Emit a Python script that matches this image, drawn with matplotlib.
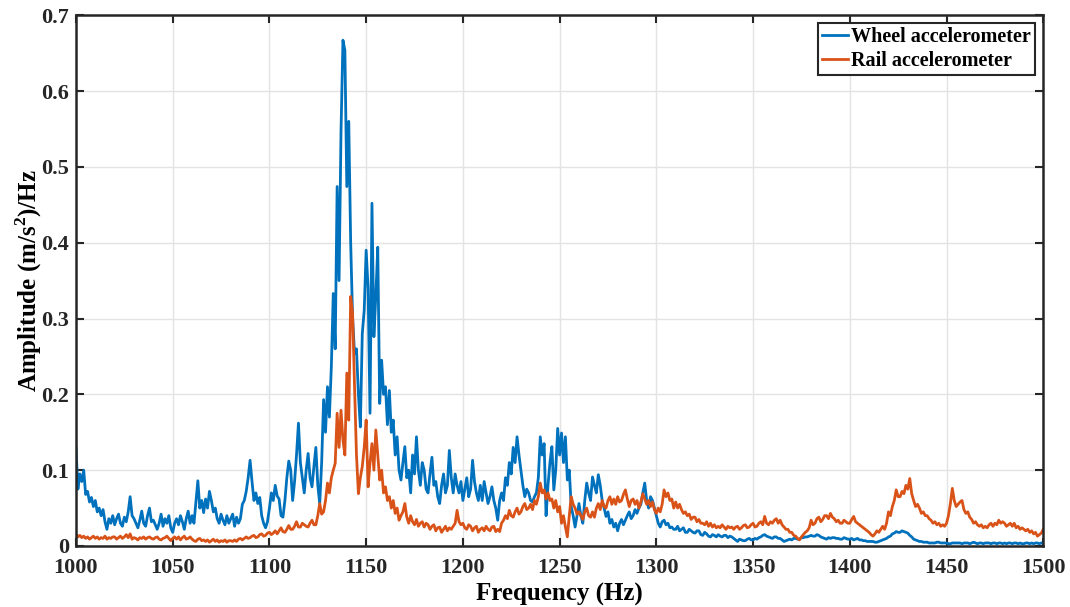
import numpy as np
import matplotlib.pyplot as plt

# frequency axis, 1 Hz steps
freq = np.arange(1000, 1501, 1)

wheel = [
    0.130, 0.075, 0.095, 0.085, 0.100, 0.068, 0.072, 0.058, 0.064, 0.052, 0.060, 0.045, 0.050, 0.040, 0.048, 0.032, 0.022, 0.036, 0.030, 0.040,
    0.028, 0.036, 0.042, 0.030, 0.026, 0.038, 0.032, 0.045, 0.065, 0.040, 0.036, 0.030, 0.024, 0.034, 0.046, 0.030, 0.026, 0.040, 0.050, 0.032,
    0.034, 0.028, 0.022, 0.030, 0.042, 0.026, 0.036, 0.030, 0.040, 0.024, 0.018, 0.030, 0.036, 0.028, 0.040, 0.032, 0.022, 0.036, 0.046, 0.030,
    0.040, 0.030, 0.058, 0.086, 0.050, 0.060, 0.044, 0.062, 0.050, 0.072, 0.060, 0.045, 0.050, 0.036, 0.030, 0.042, 0.034, 0.028, 0.040, 0.030,
    0.036, 0.042, 0.026, 0.038, 0.030, 0.036, 0.055, 0.060, 0.072, 0.090, 0.113, 0.085, 0.060, 0.070, 0.056, 0.064, 0.040, 0.030, 0.024, 0.032,
    0.050, 0.070, 0.060, 0.080, 0.066, 0.062, 0.040, 0.038, 0.060, 0.090, 0.112, 0.100, 0.060, 0.085, 0.120, 0.162, 0.110, 0.090, 0.070, 0.100,
    0.122, 0.090, 0.078, 0.105, 0.130, 0.080, 0.056, 0.110, 0.193, 0.150, 0.210, 0.170, 0.236, 0.333, 0.260, 0.474, 0.350, 0.546, 0.667, 0.654,
    0.474, 0.560, 0.400, 0.300, 0.254, 0.260, 0.200, 0.157, 0.280, 0.311, 0.390, 0.340, 0.175, 0.452, 0.276, 0.330, 0.394, 0.188, 0.245, 0.200,
    0.210, 0.160, 0.205, 0.150, 0.166, 0.120, 0.144, 0.100, 0.087, 0.110, 0.131, 0.090, 0.100, 0.070, 0.120, 0.095, 0.144, 0.100, 0.080, 0.110,
    0.100, 0.075, 0.070, 0.095, 0.117, 0.080, 0.085, 0.065, 0.056, 0.080, 0.095, 0.070, 0.080, 0.126, 0.090, 0.070, 0.095, 0.080, 0.070, 0.085,
    0.060, 0.075, 0.090, 0.065, 0.075, 0.113, 0.085, 0.070, 0.060, 0.080, 0.060, 0.085, 0.070, 0.056, 0.065, 0.078, 0.060, 0.050, 0.034, 0.060,
    0.070, 0.060, 0.090, 0.080, 0.110, 0.095, 0.130, 0.110, 0.144, 0.120, 0.100, 0.080, 0.065, 0.075, 0.070, 0.060, 0.058, 0.065, 0.070, 0.090,
    0.144, 0.120, 0.135, 0.040, 0.080, 0.110, 0.131, 0.074, 0.100, 0.155, 0.120, 0.149, 0.110, 0.144, 0.087, 0.100, 0.052, 0.040, 0.025, 0.040,
    0.056, 0.040, 0.030, 0.060, 0.083, 0.070, 0.060, 0.091, 0.080, 0.070, 0.094, 0.080, 0.060, 0.050, 0.039, 0.045, 0.030, 0.035, 0.025, 0.030,
    0.020, 0.030, 0.035, 0.028, 0.034, 0.040, 0.045, 0.036, 0.040, 0.048, 0.043, 0.050, 0.055, 0.070, 0.083, 0.060, 0.050, 0.065, 0.060, 0.050,
    0.040, 0.030, 0.025, 0.032, 0.034, 0.028, 0.030, 0.024, 0.025, 0.022, 0.022, 0.026, 0.020, 0.022, 0.024, 0.018, 0.018, 0.022, 0.020, 0.018,
    0.017, 0.020, 0.020, 0.015, 0.014, 0.018, 0.016, 0.013, 0.012, 0.015, 0.014, 0.012, 0.015, 0.013, 0.012, 0.014, 0.014, 0.011, 0.013, 0.012,
    0.010, 0.008, 0.006, 0.009, 0.008, 0.007, 0.007, 0.009, 0.010, 0.008, 0.008, 0.010, 0.009, 0.011, 0.012, 0.014, 0.015, 0.013, 0.012, 0.011,
    0.010, 0.012, 0.012, 0.010, 0.010, 0.008, 0.006, 0.007, 0.008, 0.009, 0.008, 0.010, 0.010, 0.009, 0.009, 0.011, 0.011, 0.012, 0.012, 0.013,
    0.014, 0.013, 0.013, 0.015, 0.014, 0.012, 0.011, 0.010, 0.009, 0.011, 0.010, 0.011, 0.011, 0.010, 0.010, 0.009, 0.009, 0.011, 0.010, 0.009,
    0.009, 0.010, 0.008, 0.009, 0.010, 0.008, 0.008, 0.007, 0.007, 0.006, 0.006, 0.006, 0.006, 0.005, 0.005, 0.006, 0.007, 0.008, 0.009, 0.010,
    0.012, 0.013, 0.016, 0.017, 0.019, 0.018, 0.018, 0.020, 0.019, 0.018, 0.017, 0.014, 0.012, 0.009, 0.008, 0.007, 0.006, 0.006, 0.005, 0.005,
    0.005, 0.004, 0.004, 0.004, 0.004, 0.005, 0.005, 0.004, 0.004, 0.004, 0.004, 0.003, 0.003, 0.004, 0.004, 0.004, 0.004, 0.004, 0.003, 0.004,
    0.004, 0.004, 0.003, 0.004, 0.005, 0.004, 0.003, 0.004, 0.004, 0.003, 0.004, 0.004, 0.004, 0.003, 0.004, 0.004, 0.003, 0.004, 0.004, 0.003,
    0.004, 0.003, 0.004, 0.004, 0.003, 0.004, 0.004, 0.003, 0.004, 0.003, 0.003, 0.004, 0.004, 0.003, 0.004, 0.003, 0.004, 0.004, 0.003, 0.004,
    0.004,
]

rail = [
    0.016, 0.012, 0.014, 0.011, 0.013, 0.010, 0.012, 0.009, 0.011, 0.013, 0.010, 0.012, 0.009, 0.011, 0.010, 0.013, 0.009, 0.011, 0.010, 0.012,
    0.012, 0.009, 0.011, 0.013, 0.010, 0.012, 0.015, 0.011, 0.016, 0.009, 0.011, 0.010, 0.008, 0.011, 0.010, 0.012, 0.009, 0.011, 0.012, 0.010,
    0.009, 0.011, 0.012, 0.009, 0.008, 0.010, 0.011, 0.013, 0.010, 0.007, 0.010, 0.012, 0.009, 0.012, 0.008, 0.011, 0.013, 0.009, 0.010, 0.012,
    0.009, 0.007, 0.006, 0.009, 0.010, 0.007, 0.008, 0.006, 0.008, 0.005, 0.007, 0.009, 0.006, 0.008, 0.005, 0.007, 0.006, 0.008, 0.005, 0.007,
    0.007, 0.006, 0.008, 0.006, 0.009, 0.010, 0.008, 0.010, 0.012, 0.010, 0.011, 0.013, 0.014, 0.011, 0.012, 0.015, 0.016, 0.013, 0.014, 0.017,
    0.018, 0.015, 0.017, 0.020, 0.016, 0.020, 0.024, 0.019, 0.018, 0.022, 0.027, 0.022, 0.022, 0.026, 0.032, 0.025, 0.025, 0.030, 0.028, 0.026,
    0.025, 0.030, 0.034, 0.028, 0.028, 0.040, 0.056, 0.042, 0.045, 0.060, 0.083, 0.070, 0.090, 0.100, 0.109, 0.175, 0.130, 0.179, 0.140, 0.120,
    0.228, 0.166, 0.329, 0.307, 0.210, 0.120, 0.069, 0.090, 0.105, 0.130, 0.166, 0.078, 0.110, 0.135, 0.100, 0.153, 0.120, 0.087, 0.100, 0.070,
    0.078, 0.060, 0.065, 0.050, 0.060, 0.043, 0.050, 0.034, 0.040, 0.045, 0.056, 0.038, 0.030, 0.040, 0.032, 0.028, 0.035, 0.026, 0.030, 0.032,
    0.025, 0.030, 0.028, 0.022, 0.026, 0.028, 0.020, 0.024, 0.025, 0.018, 0.022, 0.026, 0.020, 0.024, 0.022, 0.026, 0.030, 0.047, 0.032, 0.028,
    0.030, 0.024, 0.022, 0.028, 0.026, 0.020, 0.024, 0.026, 0.018, 0.022, 0.024, 0.020, 0.026, 0.022, 0.020, 0.025, 0.026, 0.019, 0.022, 0.019,
    0.030, 0.034, 0.040, 0.036, 0.047, 0.040, 0.038, 0.045, 0.050, 0.042, 0.045, 0.052, 0.056, 0.048, 0.050, 0.055, 0.048, 0.060, 0.055, 0.065,
    0.083, 0.070, 0.074, 0.062, 0.070, 0.060, 0.062, 0.050, 0.060, 0.045, 0.052, 0.030, 0.040, 0.025, 0.012, 0.040, 0.065, 0.055, 0.050, 0.042,
    0.045, 0.040, 0.035, 0.045, 0.050, 0.040, 0.038, 0.045, 0.038, 0.050, 0.056, 0.048, 0.060, 0.052, 0.050, 0.060, 0.065, 0.055, 0.062, 0.055,
    0.065, 0.058, 0.060, 0.068, 0.074, 0.062, 0.052, 0.060, 0.062, 0.055, 0.060, 0.050, 0.058, 0.069, 0.062, 0.055, 0.060, 0.052, 0.058, 0.048,
    0.043, 0.050, 0.045, 0.055, 0.074, 0.065, 0.070, 0.060, 0.062, 0.050, 0.058, 0.050, 0.055, 0.048, 0.043, 0.045, 0.040, 0.042, 0.035, 0.038,
    0.038, 0.032, 0.035, 0.030, 0.030, 0.028, 0.032, 0.026, 0.030, 0.025, 0.028, 0.024, 0.026, 0.024, 0.028, 0.025, 0.022, 0.026, 0.024, 0.025,
    0.022, 0.025, 0.026, 0.022, 0.024, 0.027, 0.028, 0.024, 0.025, 0.028, 0.030, 0.025, 0.026, 0.030, 0.032, 0.028, 0.039, 0.030, 0.028, 0.032,
    0.030, 0.034, 0.036, 0.030, 0.034, 0.028, 0.025, 0.022, 0.022, 0.018, 0.018, 0.014, 0.013, 0.010, 0.008, 0.012, 0.015, 0.018, 0.020, 0.024,
    0.034, 0.028, 0.030, 0.036, 0.038, 0.032, 0.035, 0.040, 0.040, 0.036, 0.043, 0.038, 0.036, 0.032, 0.034, 0.030, 0.030, 0.034, 0.032, 0.030,
    0.030, 0.035, 0.039, 0.032, 0.030, 0.028, 0.026, 0.024, 0.022, 0.020, 0.018, 0.015, 0.013, 0.016, 0.020, 0.018, 0.022, 0.026, 0.022, 0.030,
    0.045, 0.040, 0.052, 0.060, 0.074, 0.065, 0.065, 0.072, 0.069, 0.080, 0.075, 0.089, 0.069, 0.060, 0.052, 0.055, 0.050, 0.043, 0.045, 0.040,
    0.040, 0.036, 0.034, 0.030, 0.032, 0.028, 0.030, 0.026, 0.028, 0.026, 0.030, 0.040, 0.056, 0.076, 0.060, 0.052, 0.055, 0.058, 0.060, 0.048,
    0.043, 0.045, 0.038, 0.035, 0.030, 0.032, 0.028, 0.026, 0.028, 0.024, 0.026, 0.024, 0.028, 0.030, 0.026, 0.030, 0.028, 0.034, 0.030, 0.032,
    0.030, 0.026, 0.028, 0.030, 0.026, 0.030, 0.024, 0.026, 0.022, 0.024, 0.022, 0.020, 0.022, 0.018, 0.020, 0.016, 0.018, 0.013, 0.015, 0.017,
    0.022,
]

plt.rcParams['font.family'] = ['Liberation Serif', 'DejaVu Serif']
plt.rcParams['font.weight'] = 'bold'
plt.rcParams['mathtext.fontset'] = 'custom'
plt.rcParams['mathtext.bf'] = 'Liberation Serif:bold'

fig = plt.figure(figsize=(10.7, 6.07), dpi=100)
ax = fig.add_axes([0.071, 0.1005, 0.904, 0.8745])

ax.plot(freq, wheel, color='#0072BD', lw=2.0, label='Wheel accelerometer')
ax.plot(freq, rail, color='#D95319', lw=2.0, label='Rail accelerometer')

ax.set_xlim(1000, 1500)
ax.set_ylim(0, 0.7)
ax.set_xticks(np.arange(1000, 1501, 50))
ax.set_yticks(np.arange(0, 0.71, 0.1))
ax.set_yticklabels(['0', '0.1', '0.2', '0.3', '0.4', '0.5', '0.6', '0.7'])
ax.grid(True, color='#e3e3e3', lw=1.0)
ax.set_axisbelow(True)
ax.tick_params(direction='in', top=True, right=True, length=6, width=1.5,
               labelsize=16, colors='#262626')
ax.tick_params(axis='x', pad=9)
ax.tick_params(axis='y', pad=5)
for s in ax.spines.values():
    s.set_linewidth(1.8)
    s.set_color('#262626')

ax.set_xlabel('Frequency (Hz)', fontsize=18, fontweight='bold', labelpad=3)
ax.set_ylabel('Amplitude (m/s$^\\mathbf{2}$)/Hz', fontsize=18, fontweight='bold', labelpad=-2)

leg = ax.legend(loc='upper right', fontsize=14.5, frameon=True, fancybox=False,
                edgecolor='#262626', framealpha=1, handlelength=1.3,
                handletextpad=0.15, borderpad=0.2, labelspacing=0.2,
                borderaxespad=0.4)
leg.get_frame().set_linewidth(1.5)
for t in leg.get_texts():
    t.set_fontweight('bold')

fig.savefig('out.png', dpi=100)
